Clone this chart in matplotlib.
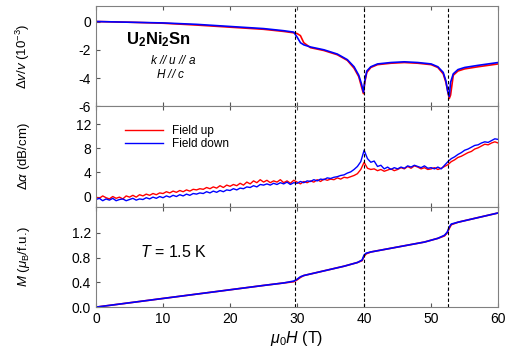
import numpy as np
import matplotlib.pyplot as plt

plt.rcParams['font.family'] = ['Liberation Sans', 'DejaVu Sans']
plt.rcParams['mathtext.fontset'] = 'custom'
plt.rcParams['mathtext.rm'] = 'Liberation Sans'
plt.rcParams['mathtext.it'] = 'Liberation Sans:italic'
plt.rcParams['mathtext.bf'] = 'Liberation Sans:bold'
plt.rcParams['axes.unicode_minus'] = False

# transition fields (T)
transitions = [29.7, 40.0, 52.5]

# --- sound velocity  dv/v (10^-3)
H_v = [0, 5, 10, 15, 20, 25, 28, 29.5, 30, 30.5, 31, 32, 34, 36, 37.5, 38.5, 39.2, 39.6, 39.9,
       40.1, 40.4, 41, 42, 44, 46, 48, 50, 51, 51.8, 52.2, 52.5, 52.7, 52.9, 53.3, 54, 55, 57, 60]
dv_up = [0, -0.05, -0.12, -0.25, -0.4, -0.55, -0.7, -0.8, -0.85, -1.0, -1.5, -1.85, -2.05, -2.35,
         -2.75, -3.3, -3.9, -4.6, -5.1, -4.3, -3.6, -3.25, -3.05, -2.95, -2.9, -2.95, -3.05, -3.25,
         -3.7, -4.3, -5.0, -5.45, -5.2, -3.8, -3.5, -3.35, -3.2, -3.0]
dv_down = [0, -0.05, -0.1, -0.2, -0.35, -0.5, -0.65, -0.75, -1.1, -1.5, -1.65, -1.8, -2.0, -2.3,
           -2.7, -3.2, -3.8, -4.4, -5.0, -4.2, -3.5, -3.2, -3.0, -2.9, -2.85, -2.9, -3.0, -3.2,
           -3.6, -4.2, -5.0, -5.3, -4.3, -3.7, -3.4, -3.25, -3.1, -2.9]

# --- attenuation (dB/cm), every 0.5 T from 0 to 60
da_up = [-0.1, -0.3, 0.1, -0.2, -0.4, 0.0, -0.3, -0.1, -0.4, 0.1,
         -0.1, 0.2, -0.1, 0.3, 0.1, 0.4, 0.2, 0.5, 0.3, 0.6,
         0.5, 0.8, 0.6, 0.9, 0.7, 1.0, 0.8, 1.1, 0.9, 1.2,
         1.1, 1.3, 1.2, 1.5, 1.3, 1.6, 1.4, 1.8, 1.5, 1.9,
         1.7, 2.0, 1.8, 2.2, 1.9, 2.4, 2.1, 2.6, 2.3, 2.8,
         2.4, 2.7, 2.3, 2.6, 2.4, 2.8, 2.3, 2.6, 2.2, 2.7,
         2.4, 2.1, 2.5, 2.3, 2.6, 2.4, 2.8, 2.5, 2.9, 2.7,
         2.9, 2.8, 3.1, 2.9, 3.2, 3.1, 3.3, 3.5, 3.8, 4.5,
         5.7, 4.7, 4.5, 4.6, 4.3, 4.5, 4.2, 4.4, 4.6, 4.3,
         4.5, 4.8, 4.6, 5.0, 4.7, 5.1, 4.9, 4.6, 4.8, 4.5,
         4.6, 4.8, 4.5, 4.7, 5.0, 5.3, 5.8, 6.1, 6.5, 6.7,
         7.0, 7.3, 7.5, 7.9, 8.1, 8.4, 8.7, 8.6, 8.9, 9.1,
         8.9]
da_down = [-0.5, -0.3, -0.7, -0.4, -0.6, -0.3, -0.7, -0.5, -0.4, -0.7,
           -0.5, -0.3, -0.6, -0.4, -0.5, -0.2, -0.4, -0.1, -0.3, 0.0,
           -0.2, 0.1, -0.1, 0.2, 0.0, 0.3, 0.1, 0.4, 0.2, 0.5,
           0.4, 0.6, 0.5, 0.8, 0.6, 0.9, 0.7, 1.0, 0.8, 1.1,
           1.0, 1.3, 1.1, 1.4, 1.3, 1.6, 1.5, 1.8, 1.6, 2.0,
           1.9, 2.1, 1.9, 2.2, 2.0, 2.3, 2.1, 2.4, 2.0, 2.3,
           2.2, 2.5, 2.3, 2.6, 2.5, 2.8, 2.6, 2.9, 2.8, 3.1,
           3.0, 3.2, 3.3, 3.5, 3.6, 3.9, 4.1, 4.5, 5.0, 5.8,
           7.7, 6.3, 5.7, 5.9, 5.0, 5.2, 4.6, 4.9, 4.5, 4.8,
           4.6, 4.9, 4.7, 5.1, 4.9, 5.2, 5.0, 4.8, 5.1, 4.7,
           4.8, 4.6, 4.9, 4.6, 5.2, 5.8, 6.3, 6.6, 7.0, 7.3,
           7.7, 7.9, 8.2, 8.5, 8.6, 8.9, 9.1, 9.0, 9.3, 9.6,
           9.5]
H_a = np.linspace(0, 60, len(da_up))

# --- magnetization (mu_B/f.u.)
H_m = [0, 5, 10, 15, 20, 25, 28, 29.5, 30, 30.5, 31, 33, 35, 37, 39, 39.7, 40, 40.3, 41, 43, 45,
       47, 49, 50, 51, 52, 52.4, 52.7, 53, 54, 56, 58, 60]
M_up = [0, 0.07, 0.14, 0.21, 0.28, 0.35, 0.39, 0.41, 0.44, 0.48, 0.51, 0.56, 0.61, 0.66, 0.72,
        0.75, 0.82, 0.86, 0.89, 0.93, 0.97, 1.01, 1.05, 1.08, 1.11, 1.15, 1.2, 1.27, 1.33, 1.37,
        1.42, 1.47, 1.52]
M_down = [0, 0.07, 0.14, 0.21, 0.28, 0.35, 0.39, 0.42, 0.45, 0.49, 0.51, 0.56, 0.61, 0.66, 0.72,
          0.76, 0.84, 0.87, 0.89, 0.93, 0.97, 1.01, 1.05, 1.08, 1.11, 1.16, 1.21, 1.29, 1.34, 1.37,
          1.42, 1.47, 1.52]

fig, axes = plt.subplots(3, 1, figsize=(5.12, 3.51), dpi=100, sharex=True)
fig.subplots_adjust(left=0.1875, right=0.973, top=0.983, bottom=0.125, hspace=0)
ax1, ax2, ax3 = axes

ax1.plot(H_v, dv_up, color='red', lw=1.2)
ax1.plot(H_v, dv_down, color='blue', lw=1.2)
ax2.plot(H_a, da_up, color='red', lw=1.0, label='Field up')
ax2.plot(H_a, da_down, color='blue', lw=1.0, label='Field down')
ax3.plot(H_m, M_up, color='red', lw=1.2)
ax3.plot(H_m, M_down, color='blue', lw=1.2)

for ax in axes:
    for h in transitions:
        ax.axvline(h, color='black', ls='--', lw=0.8, dashes=(3, 2))
    ax.tick_params(direction='in', top=True, labelsize=10, length=3, color='#555555')
    for sp in ax.spines.values():
        sp.set_color('#808080')
    ax.set_xlim(0, 60)

ax1.set_ylim(-6, 1.1)
ax1.set_yticks([0, -2, -4, -6])
ax2.set_ylim(-1.7, 15)
ax2.set_yticks([0, 4, 8, 12])
ax3.set_ylim(0, 1.62)
ax3.set_yticks([0.0, 0.4, 0.8, 1.2])
ax3.set_yticklabels(['0.0', '0.4', '0.8', '1.2'])
ax3.set_xticks([0, 10, 20, 30, 40, 50, 60])

ax1.set_ylabel(r'$\Delta v/v$ (10$^{-3}$)', fontsize=9.5)
ax2.set_ylabel(r'$\Delta\alpha$ (dB/cm)', fontsize=9.5)
ax3.set_ylabel(r'$M$ ($\mu_{\rm B}$/f.u.)', fontsize=9.5)
ax3.set_xlabel(r'$\mu_0H$ (T)', fontsize=11.5, labelpad=2)
for ax in axes:
    ax.yaxis.set_label_coords(-0.16, 0.5)

ax1.text(0.075, 0.62, r'$\mathbf{U_2Ni_2Sn}$', transform=ax1.transAxes, fontsize=12)
ax1.text(0.135, 0.42, r'$k$ // $u$ // $a$', transform=ax1.transAxes, fontsize=8.5, style='italic')
ax1.text(0.15, 0.28, r'$H$ // $c$', transform=ax1.transAxes, fontsize=8.5, style='italic')

ax2.legend(loc='upper left', bbox_to_anchor=(0.06, 0.86), frameon=False, fontsize=8.5,
           handlelength=3.2, labelspacing=0.05, borderaxespad=0)

ax3.text(0.11, 0.5, r'$T$ = 1.5 K', transform=ax3.transAxes, fontsize=11.5)

fig.savefig('out.png', dpi=100)
